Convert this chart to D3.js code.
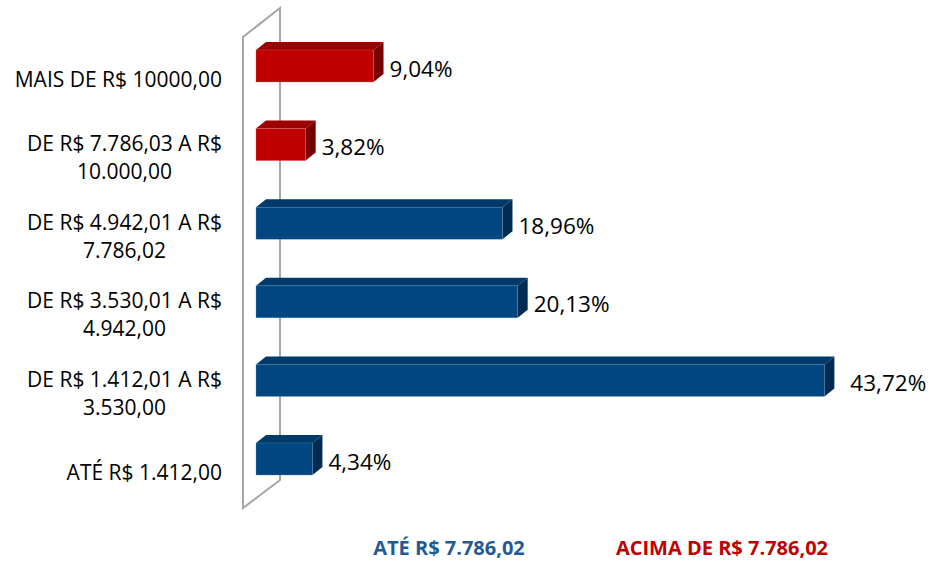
<!DOCTYPE html>
<html>
<head>
<meta charset="utf-8">
<script src="https://cdn.jsdelivr.net/npm/d3@7"></script>
<style>
  body { margin: 0; background: #fff; }
  text { font-family: "Open Sans", sans-serif; }
</style>
</head>
<body>
<svg id="chart" width="934" height="562"></svg>
<script>
// data, top to bottom as drawn
const categories = [
  ["MAIS DE R$ 10000,00"],
  ["DE R$ 7.786,03 A R$", "10.000,00"],
  ["DE R$ 4.942,01 A R$", "7.786,02"],
  ["DE R$ 3.530,01 A R$", "4.942,00"],
  ["DE R$ 1.412,01 A R$", "3.530,00"],
  ["ATÉ R$ 1.412,00"]
];
const values = [9.04, 3.82, 18.96, 20.13, 43.72, 4.34];
const groups = ["acima", "acima", "ate", "ate", "ate", "ate"];
const legendLabels = ["ATÉ R$ 7.786,02", "ACIMA DE R$ 7.786,02"];

const svg = d3.select("#chart");

const x = d3.scaleLinear().domain([0, 50]).range([256, 906]);
const y = d3.scalePoint().domain(d3.range(categories.length)).range([66, 459]);
const barH = 32, dx = 10, dy = 8;

const colors = {
  ate:   { front: "#004680", top: "#003a6b", side: "#002c52", edge: "#5f8fbf" },
  acima: { front: "#c00000", top: "#9c0000", side: "#780000", edge: "#e06060" }
};

// wall
svg.append("path")
  .attr("fill", "none").attr("stroke", "#a6a6a6").attr("stroke-width", 2)
  .attr("d", "M243,508 L243,37 L280,8 L280,480 Z");

// bars
const bars = svg.selectAll("g.bar").data(values).join("g").attr("class", "bar");
bars.each(function(v, i) {
  const g = d3.select(this);
  const c = colors[groups[i]];
  const x0 = x(0), x1 = x(v);
  const y0 = y(i) - barH / 2, y1 = y(i) + barH / 2;
  g.append("path").attr("fill", c.top)
    .attr("d", `M${x0},${y0} L${x0 + dx},${y0 - dy} L${x1 + dx},${y0 - dy} L${x1},${y0} Z`);
  g.append("path").attr("fill", c.side)
    .attr("d", `M${x1},${y0} L${x1 + dx},${y0 - dy} L${x1 + dx},${y1 - dy} L${x1},${y1} Z`);
  g.append("rect").attr("x", x0).attr("y", y0).attr("width", x1 - x0).attr("height", barH)
    .attr("fill", c.front).attr("stroke", c.edge).attr("stroke-width", 0.6).attr("stroke-opacity", 0.6);
  g.append("text")
    .attr("x", x1 + dx + (v > 40 ? 16 : 6)).attr("y", y(i) + 10.5)
    .attr("font-size", 22.5).attr("fill", "#000")
    .text(d3.format(".2f")(v).replace(".", ",") + "%");
});

// category labels: block right-aligned at 222, lines centered inside block
const labelRight = 222, lineH = 28;
categories.forEach((lines, i) => {
  const g = svg.append("g");
  const ts = lines.map(l => g.append("text").attr("font-size", 21).attr("fill", "#000")
    .attr("text-anchor", "middle").text(l));
  const maxW = d3.max(ts, t => t.node().getComputedTextLength());
  const cx = labelRight - maxW / 2;
  const base = y(i) + 20.5 - (lines.length - 1) * lineH / 2;
  ts.forEach((t, k) => t.attr("x", cx).attr("y", base + k * lineH));
});

// legend
svg.append("text").attr("x", 449).attr("y", 555).attr("text-anchor", "middle")
  .attr("font-size", 20).attr("font-weight", "bold")
  .attr("fill", "#1f5a96").text(legendLabels[0]);
svg.append("text").attr("x", 722).attr("y", 555).attr("text-anchor", "middle")
  .attr("font-size", 20).attr("font-weight", "bold")
  .attr("fill", "#c00000").text(legendLabels[1]);
</script>
</body>
</html>
